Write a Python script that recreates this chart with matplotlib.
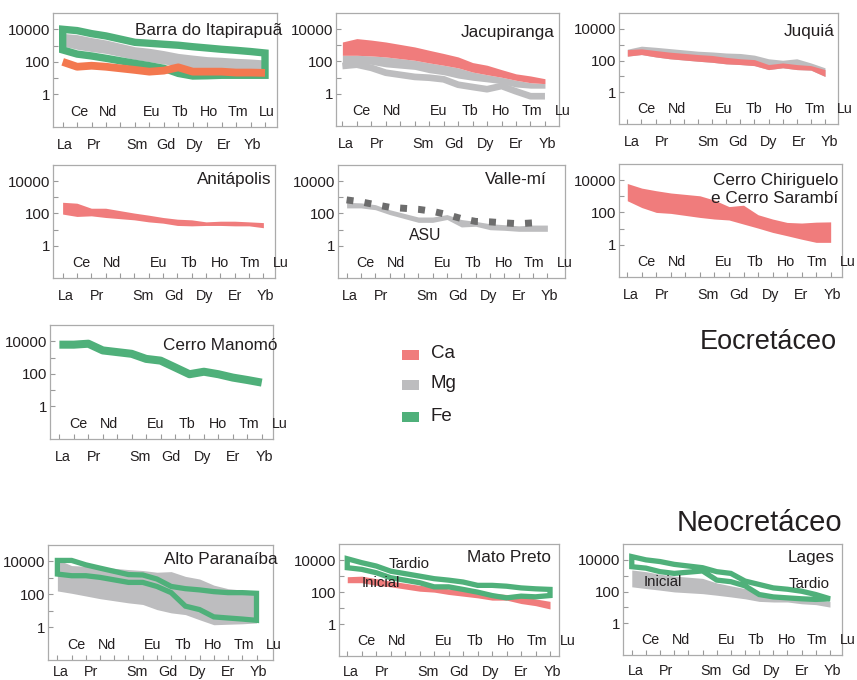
import numpy as np
import matplotlib
matplotlib.use("Agg")
import matplotlib.pyplot as plt
from matplotlib.patches import Polygon, Rectangle

plt.rcParams['font.family'] = ['Liberation Sans', 'DejaVu Sans']

# ---------------- data ----------------
elements = ['La', 'Ce', 'Pr', 'Nd', 'Sm', 'Eu', 'Gd', 'Tb', 'Dy', 'Ho', 'Er', 'Tm', 'Yb', 'Lu']
slots = [0, 1, 2, 3, 5, 6, 7, 8, 9, 10, 11, 12, 13, 14]   # Pm slot (4) left empty
upper_row = ['Ce', 'Nd', 'Eu', 'Tb', 'Ho', 'Tm', 'Lu']
yticks = [1, 100, 10000]
yticklabels = ['1', '100', '10000']
legend_labels = ['Ca', 'Mg', 'Fe']

# Barra do Itapirapuã
barra_fe_upper = [10000, 8300, 5400, 3900, 1580, 1380, 1200, 1050, 850, 710, 590, 510, 430, 350]
barra_fe_lower = [540, 300, 230, 165, 81, 58, 40, 19.5, 13.5, 14, 15, 15, 15, 15]
barra_mg_upper = [5600, 4700, 3100, 2200, 850, 680, 490, 330, 260, 210, 190, 165, 150, 130]
barra_mg_lower = [940, 590, 430, 330, 140, 102, 74, 55, 40, 40, 38, 38, 38, 38]
barra_ca = [100, 50, 58, 50, 32, 25, 29, 46, 25, 25, 25, 22, 22, 21]

# Jacupiranga
jacu_ca_upper = [1600, 2600, 2100, 1600, 790, 490, 310, 190, 85, 58, 31, 17, 12.6, 8.5]
jacu_ca_lower = [240, 240, 220, 190, 118, 81, 58, 40, 22, 15, 10.5, 6.8, 4.8, 4.2]
jacu_mg1_lower = [74, 81, 66, 46, 32, 20, 15, 9.3, 6.8, 5.4, 4.2, 2.6, 2.2, 2.2]
jacu_mg2 = [52, 63, 40, 20, 11, 9.8, 7.8, 3.6, 2.6, 1.9, 3.0, 1.4, 0.7, 0.7]

# Juquiá
juq_mg_upper = [520, 810, 690, 570, 390, 350, 300, 280, 220, 130, 105, 130, 71, 35]
juq_ca_upper = [490, 550, 430, 340, 240, 210, 160, 130, 115, 56, 71, 56, 48, 27]
juq_ca_lower = [190, 240, 170, 130, 91, 78, 62, 56, 48, 27, 35, 27, 25, 10]

# Anitápolis
ani_ca_upper = [490, 430, 210, 210, 105, 78, 56, 44, 40, 30, 33, 33, 30, 27]
ani_ca_lower = [91, 65, 71, 56, 40, 30, 25, 18, 17, 18, 18, 17, 17, 13]

# Valle-mí
valle_mg_upper = [490, 450, 350, 170, 60, 60, 85, 42, 32, 23, 20, 17, 19, 19]
valle_mg_lower = [220, 220, 170, 85, 28, 28, 42, 14.5, 16, 9.8, 9, 7.8, 7.8, 7.8]
valle_asu = [690, 520, 350, 240, 180, 135, 85, 48, 32, 30, 26, 23, 26]   # La..Yb

# Cerro Chiriguelo e Cerro Sarambí
chir_ca_upper = [6200, 3200, 2200, 1600, 1070, 580, 230, 280, 72, 39, 24, 22, 25, 26]
chir_ca_lower = [530, 200, 100, 87, 49, 39, 34, 19, 10.7, 5.8, 3.6, 2.2, 1.4, 1.4]

# Cerro Manomó
mano_fe = [6200, 6200, 7100, 2750, 1700, 830, 650, 250, 95, 135, 95, 59, 42, 29]

# Alto Paranaíba
alto_mg_upper = [13000, 5600, 5100, 4500, 3200, 2800, 2200, 2400, 1230, 850, 360, 220, 180, 160]
alto_mg_lower = [160, 115, 79, 54, 30, 24, 11.7, 7.4, 5.8, 2.8, 1.4, 1.5, 1.6, 1.8]
alto_fe_upper = [11500, 11500, 6200, 3900, 1580, 1500, 850, 300, 220, 185, 145, 126, 126, 115]
alto_fe_lower = [1700, 1350, 1350, 1070, 530, 530, 300, 126, 19, 11.7, 4.2, 3.6, 3.1, 2.6]

# Mato Preto
mato_ca_upper = [900, 980, 680, 480, 260, 210, 158, 130, 98, 81, 70, 55, 37, 26]
mato_ca_lower = [380, 380, 260, 210, 112, 98, 70, 55, 43, 31, 31, 19, 14, 8.7]
mato_fe_upper = [12000, 6800, 4200, 2000, 980, 680, 550, 420, 260, 260, 230, 180, 158, 145]
mato_fe_lower = [3300, 2600, 1600, 780, 380, 210, 210, 145, 98, 60, 43, 55, 50, 60]

# Lages
lages_fe_upper = [16000, 10000, 7800, 5200, 3200, 1800, 1400, 460, 280, 170, 140, 105, 65, 35]
lages_fe_lower = [3700, 3000, 1800, 1400, 2000, 530, 420, 230, 65, 46, 40, 35, 32, 35]
lages_mg_upper = [2300, 1800, 1230, 950, 680, 350, 230, 155, 65, 46, 40, 35, 31, 24]
lages_mg_lower = [200, 155, 123, 95, 74, 59, 46, 35, 24, 22, 22, 17, 15, 10.5]

# ---------------- style ----------------
CA = '#F07C7C'
MG = '#BDBDBF'
FE = '#4FB07A'
ORANGE = '#F3784F'
DARK = '#6D6D6D'
TXT = '#231F20'
FRAME = '#ABABAB'

W, H = 857, 680
fig = plt.figure(figsize=(W / 100, H / 100), dpi=100)


def add_panel(box, xlim, title, tpos, lscale=1.07, loff=0.25, tfs=12.3, low_dy=-18):
    l, t, r, b = box
    ax = fig.add_axes([l / W, 1 - b / H, (r - l) / W, (b - t) / H])
    ax.set_yscale('log')
    ax.set_ylim(0.01, 1e5)
    ax.set_xlim(*xlim)
    ax.set_xticks(range(15))
    ax.set_xticklabels([])
    ax.set_yticks(yticks)
    ax.set_yticklabels(yticklabels)
    ax.set_yticks([10, 1000], minor=True)
    ax.set_yticklabels([], minor=True)
    ax.xaxis.set_minor_locator(matplotlib.ticker.NullLocator())
    ax.tick_params(axis='both', which='both', direction='in', length=3.8,
                   width=0.8, color='#9A9A9A', pad=2, labelsize=10.8,
                   labelcolor=TXT)
    for sp in ax.spines.values():
        sp.set_color(FRAME)
        sp.set_linewidth(0.9)
    ax.patch.set_alpha(0)
    for el, s in zip(elements, slots):
        x = loff + lscale * s
        dy = 15 if el in upper_row else low_dy
        ax.annotate(el, xy=(x, 0), xycoords=('data', 'axes fraction'),
                    xytext=(0, dy), textcoords='offset pixels', ha='center',
                    va='center', fontsize=10.3, color=TXT, annotation_clip=False)
    ax.text(tpos[0], tpos[1], title, transform=ax.transAxes, ha='right',
            va='center', fontsize=tfs, color=TXT, linespacing=1.25)
    return ax


def band(ax, upper, lower, color):
    ax.fill_between(slots[:len(upper)], lower, upper, color=color, lw=0)


def envelope(ax, upper, lower, color, lw):
    xs = list(slots) + list(slots)[::-1]
    ys = list(upper) + list(lower)[::-1]
    ax.add_patch(Polygon(np.column_stack([xs, ys]), closed=True, fill=False,
                         edgecolor=color, linewidth=lw, joinstyle='miter'))


def line(ax, vals, color, lw, **kw):
    ax.plot(slots[:len(vals)], vals, color=color, lw=lw,
            solid_capstyle='butt', solid_joinstyle='round', **kw)


# Row 1
ax = add_panel((53, 13, 277, 127), (-0.67, 14.83), 'Barra do Itapirapuã', (1.022, 0.85),
               lscale=1.0, loff=0.15)
band(ax, barra_mg_upper, barra_mg_lower, MG)
envelope(ax, barra_fe_upper, barra_fe_lower, FE, 5.3)
line(ax, barra_ca, ORANGE, 5.6)

ax = add_panel((336, 13, 559, 126), (-0.44, 14.97), 'Jacupiranga', (0.982, 0.83))
band(ax, jacu_ca_lower, jacu_mg1_lower, MG)
line(ax, jacu_mg2, MG, 4.8)
band(ax, jacu_ca_upper, jacu_ca_lower, CA)

ax = add_panel((619, 13, 838, 124), (-0.59, 14.92), 'Juquiá', (0.986, 0.83), lscale=1.08, loff=0.3)
band(ax, juq_mg_upper, juq_ca_lower, MG)
band(ax, juq_ca_upper, juq_ca_lower, CA)

# Row 2
ax = add_panel((53, 165, 275, 278), (-0.67, 14.81), 'Anitápolis', (0.986, 0.876))
band(ax, ani_ca_upper, ani_ca_lower, CA)

ax = add_panel((338, 165, 565, 278), (-0.6, 15.23), 'Valle-mí', (0.92, 0.876))
band(ax, valle_mg_upper, valle_mg_lower, MG)
line(ax, valle_asu, DARK, 5.0, linestyle=(0, (1, 1.6)))
ax.text(5.5, 4.2, 'ASU', ha='center', va='center', fontsize=11.3, color=TXT)

ax = add_panel((619, 164, 842, 277), (-0.57, 14.78), 'Cerro Chiriguelo\ne Cerro Sarambí',
               (0.982, 0.775), lscale=1.065, loff=0.25)
band(ax, chir_ca_upper, chir_ca_lower, CA)

# Row 3
ax = add_panel((50, 325, 273, 439), (-0.65, 14.78), 'Cerro Manomó', (1.018, 0.816))
line(ax, mano_fe, FE, 5.8)

# Row 4
ax = add_panel((48, 545, 273, 660), (-0.66, 15.16), 'Alto Paranaíba', (1.022, 0.87), low_dy=-12)
band(ax, alto_mg_upper, alto_mg_lower, MG)
envelope(ax, alto_fe_upper, alto_fe_lower, FE, 3.8)

ax = add_panel((339, 544, 559, 656), (-0.57, 14.62), 'Mato Preto', (0.964, 0.875), low_dy=-16)
band(ax, mato_ca_upper, mato_ca_lower, CA)
envelope(ax, mato_fe_upper, mato_fe_lower, FE, 3.8)
ax.text(4.3, 5400, 'Tardio', ha='center', va='center', fontsize=10.8, color=TXT)
ax.text(2.3, 380, 'Inicial', ha='center', va='center', fontsize=10.8, color=TXT)

ax = add_panel((623, 544, 842, 655), (-0.62, 14.85), 'Lages', (0.968, 0.874), low_dy=-16)
band(ax, lages_mg_upper, lages_mg_lower, MG)
envelope(ax, lages_fe_upper, lages_fe_lower, FE, 3.8)
ax.text(2.2, 420, 'Inicial', ha='center', va='center', fontsize=10.8, color=TXT)
ax.text(12.5, 320, 'Tardio', ha='center', va='center', fontsize=10.8, color=TXT)

# Legend
for lab, col, yc in zip(legend_labels, [CA, MG, FE], [354.5, 385, 417]):
    fig.add_artist(Rectangle((402 / W, 1 - (yc + 5) / H), 17 / W, 10 / H,
                             transform=fig.transFigure, facecolor=col, edgecolor='none'))
    fig.text(431 / W, 1 - (yc - 1) / H, lab, ha='left', va='center', fontsize=13.5, color=TXT)

fig.text(837 / W, 1 - 342 / H, 'Eocretáceo', ha='right', va='center', fontsize=19.5, color=TXT)
fig.text(842 / W, 1 - 523 / H, 'Neocretáceo', ha='right', va='center', fontsize=21, color=TXT)

fig.savefig('out.png', dpi=100)
